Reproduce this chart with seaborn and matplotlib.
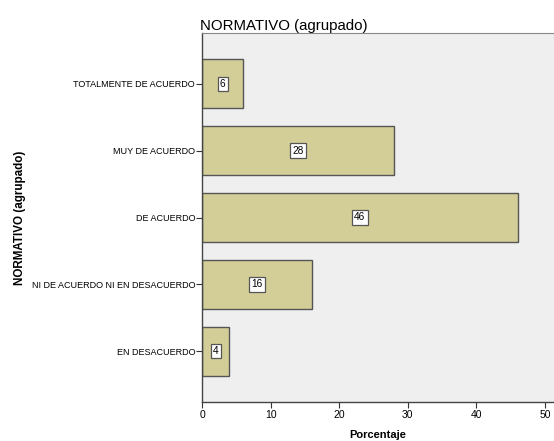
import matplotlib
matplotlib.use("Agg")
import matplotlib.pyplot as plt
import seaborn as sns
import pandas as pd

categories = ["TOTALMENTE DE ACUERDO", "MUY DE ACUERDO", "DE ACUERDO",
              "NI DE ACUERDO NI EN DESACUERDO", "EN DESACUERDO"]
values = [6, 28, 46, 16, 4]
x_ticks = [0, 10, 20, 30, 40, 50]

sns.set_style("white")
plt.rcParams['font.family'] = ['Liberation Sans', 'DejaVu Sans']
plt.rcParams['text.color'] = 'black'
plt.rcParams['axes.labelcolor'] = 'black'
plt.rcParams['xtick.color'] = 'black'
plt.rcParams['ytick.color'] = 'black'

df = pd.DataFrame({"cat": categories, "val": values})

fig = plt.figure(figsize=(5.54, 4.41), dpi=100)
ax = fig.add_axes([202/554, 1-402/441, 1-202/554, (402-33)/441])
ax.set_facecolor("#EFEFEF")

sns.barplot(data=df, y="cat", x="val", orient="h", color="#D3CE97",
            saturation=1, edgecolor="#555555", linewidth=1.0, width=0.73, ax=ax)

for i, v in enumerate(values):
    ax.text(v / 2, i, str(v), ha="center", va="center", fontsize=7.3,
            bbox=dict(boxstyle="square,pad=0.22", facecolor="white",
                      edgecolor="#555555", linewidth=0.9))

ax.set_xlim(0, 51.3)
ax.set_ylim(4.76, -0.76)
ax.set_xticks(x_ticks)
ax.set_xticklabels([str(t) for t in x_ticks], fontsize=7.5)
ax.tick_params(axis="y", labelsize=6.5, length=4, width=0.8, color="#333333", left=True, pad=1)
ax.tick_params(axis="x", length=4, width=0.8, color="#333333", bottom=True, pad=2)

for side in ["top", "right"]:
    ax.spines[side].set_visible(False)
for side in ["left", "bottom"]:
    ax.spines[side].set_color("#444444")
    ax.spines[side].set_linewidth(1.0)
ax.spines["top"].set_visible(True)
ax.spines["top"].set_color("#888888")
ax.spines["top"].set_linewidth(0.8)

ax.set_xlabel("Porcentaje", fontsize=8, fontweight="bold", labelpad=7)
ax.set_ylabel("NORMATIVO (agrupado)", fontsize=8.4, fontweight="bold", labelpad=4)
ax.set_title("NORMATIVO (agrupado)", fontsize=10.8, loc="left", pad=2.5, x=-0.005)

fig.savefig("out.png", dpi=100)
